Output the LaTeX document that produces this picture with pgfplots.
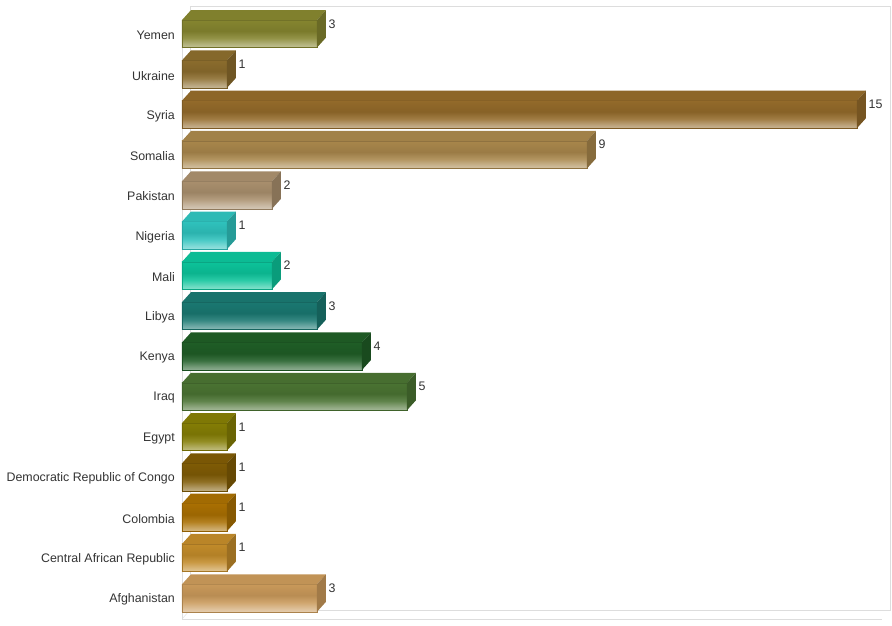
\documentclass[border=0pt]{standalone}
\usepackage{fontspec}
\setmainfont{Liberation Sans}
\usepackage{pgfplots}
\pgfplotsset{compat=1.18}

\definecolor{txt}{HTML}{333333}
\definecolor{wall}{HTML}{DDDDDD}
\definecolor{cYemen}{HTML}{85852F}
\definecolor{cUkraine}{HTML}{8B6C2D}
\definecolor{cSyria}{HTML}{936A2A}
\definecolor{cSomalia}{HTML}{A8864B}
\definecolor{cPakistan}{HTML}{A98F6D}
\definecolor{cNigeria}{HTML}{2FC2BD}
\definecolor{cMali}{HTML}{0CC39A}
\definecolor{cLibya}{HTML}{1A7871}
\definecolor{cKenya}{HTML}{1F5D26}
\definecolor{cIraq}{HTML}{4A7332}
\definecolor{cEgypt}{HTML}{847D05}
\definecolor{cDRC}{HTML}{7F5B05}
\definecolor{cColombia}{HTML}{A96F02}
\definecolor{cCAR}{HTML}{C28B2A}
\definecolor{cAfghan}{HTML}{C9995A}

\colorlet{bc}{black}
\colorlet{bctop}{black}
\colorlet{bcside}{black}

% front face: light at the bottom, dark band in the middle
\pgfdeclareverticalshading[bc]{barshade}{100bp}{%
  color(0bp)=(bc!50!white); color(25bp)=(bc!50!white);
  color(31bp)=(bc!62!white); color(42bp)=(bc!88!white);
  color(55bp)=(bc!92!black); color(68bp)=(bc!97!black);
  color(75bp)=(bc); color(100bp)=(bc)}

\tikzset{bcol/.code={\colorlet{bc}{#1}\colorlet{bctop}{#1!96!black}\colorlet{bcside}{#1!80!black}}}

% top and side faces, drawn at the end of each bar (45pt per unit)
\pgfdeclareplotmark{box3d}{%
  \pgfmathsetmacro\barlen{\bv*45}%
  \pgfmathsetmacro\barback{9-\barlen}%
  \pgfpathmoveto{\pgfpoint{-\barlen pt}{13.75pt}}%
  \pgfpathlineto{\pgfpoint{0pt}{13.75pt}}%
  \pgfpathlineto{\pgfpoint{9pt}{23.75pt}}%
  \pgfpathlineto{\pgfpoint{\barback pt}{23.75pt}}%
  \pgfpathclose
  \pgfsetfillcolor{bctop}\pgfusepath{fill}%
  \pgfpathmoveto{\pgfpoint{0pt}{-13.75pt}}%
  \pgfpathlineto{\pgfpoint{9pt}{-3.75pt}}%
  \pgfpathlineto{\pgfpoint{9pt}{23.75pt}}%
  \pgfpathlineto{\pgfpoint{0pt}{13.75pt}}%
  \pgfpathclose
  \pgfsetfillcolor{bcside}\pgfusepath{fill}%
}

\newcommand\threedbar[3]{%
  \addplot[bcol=#3, xbar, bar width=27.5pt, bar shift=0pt,
    shade, shading=barshade, draw=bc!85!black, line width=0.4pt,
    mark=box3d, visualization depends on={value \thisrow{v} \as \bv}]
    table[row sep=\\] {v i\\ #2 #1\\};}

\begin{document}
\begin{tikzpicture}
\path[use as bounding box] (0,0) rectangle (892pt,625pt);
\begin{axis}[
  at={(182pt,6pt)}, anchor=south west,
  scale only axis, width=700pt, height=604pt,
  xmin=0, xmax=15.556, ymin=-0.521, ymax=14.467,
  clip=false,
  axis line style={draw=none},
  xtick=\empty,
  ytick={0,...,14},
  major tick length=0pt,
  yticklabels={Afghanistan, Central African Republic, Colombia,
    Democratic Republic of Congo, Egypt, Iraq, Kenya, Libya, Mali,
    Nigeria, Pakistan, Somalia, Syria, Ukraine, Yemen},
  yticklabel style={anchor=east, inner sep=0pt, xshift=-7pt, yshift=-1.5pt,
    font=\fontsize{12.4}{14}\selectfont, text=txt},
  /pgf/number format/assume math mode=true,
  nodes near coords, point meta=x,
  nodes near coords align={anchor=west},
  every node near coord/.append style={anchor=west, inner sep=0pt,
    xshift=11.5pt, yshift=10pt, font=\fontsize{12.4}{14}\selectfont, text=txt},
]
% walls
\draw[wall] (rel axis cs:0,0) ++(8pt,9pt) -- ++(700pt,0pt) -- ++(0pt,604pt) -- ++(-700pt,0pt) -- cycle;
\draw[wall] (rel axis cs:0,0) -- ++(8pt,9pt);
\draw[wall] (rel axis cs:0,0) -- (rel axis cs:1,0);
\draw[wall] (rel axis cs:0,0) -- ++(0pt,600pt);

\threedbar{0}{3}{cAfghan}
\threedbar{1}{1}{cCAR}
\threedbar{2}{1}{cColombia}
\threedbar{3}{1}{cDRC}
\threedbar{4}{1}{cEgypt}
\threedbar{5}{5}{cIraq}
\threedbar{6}{4}{cKenya}
\threedbar{7}{3}{cLibya}
\threedbar{8}{2}{cMali}
\threedbar{9}{1}{cNigeria}
\threedbar{10}{2}{cPakistan}
\threedbar{11}{9}{cSomalia}
\threedbar{12}{15}{cSyria}
\threedbar{13}{1}{cUkraine}
\threedbar{14}{3}{cYemen}
\end{axis}
\end{tikzpicture}
\end{document}
